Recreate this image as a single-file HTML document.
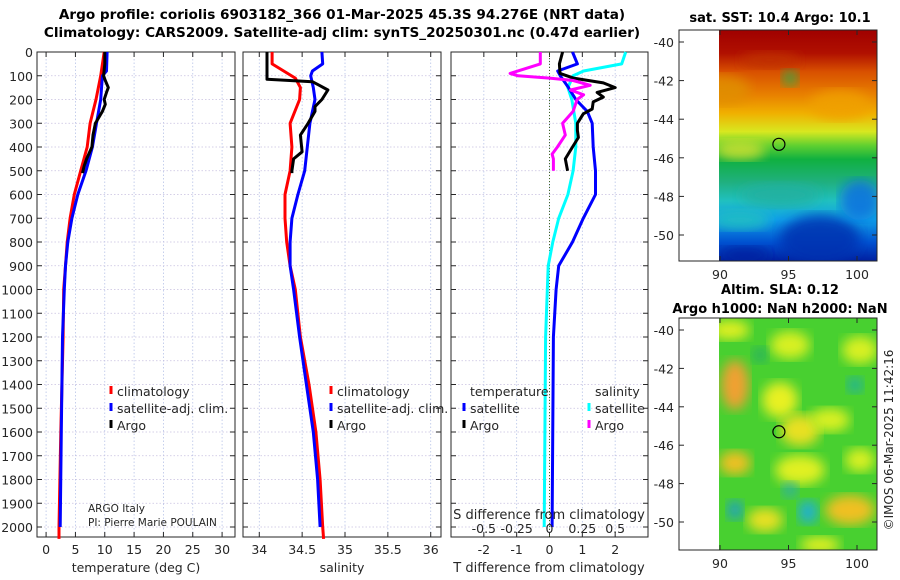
<!DOCTYPE html>
<html><head><meta charset="utf-8">
<style>
html,body{margin:0;padding:0;background:#fff;}
svg{display:block;font-family:"DejaVu Sans","Liberation Sans",sans-serif;}
</style></head>
<body>
<svg id="fig" width="900" height="580" viewBox="0 0 900 580" xmlns="http://www.w3.org/2000/svg">
<defs>
<linearGradient id="sstGrad" x1="0" y1="0" x2="0" y2="1">
<stop offset="0" stop-color="#a00000"/><stop offset="0.1" stop-color="#b01000"/>
<stop offset="0.18" stop-color="#d85000"/><stop offset="0.28" stop-color="#e88000"/>
<stop offset="0.36" stop-color="#f0b000"/><stop offset="0.44" stop-color="#d8e820"/>
<stop offset="0.5" stop-color="#60d030"/><stop offset="0.56" stop-color="#10b040"/>
<stop offset="0.66" stop-color="#20b080"/><stop offset="0.74" stop-color="#20c0c0"/>
<stop offset="0.82" stop-color="#10a0e8"/><stop offset="0.92" stop-color="#0050d0"/>
<stop offset="1" stop-color="#0020a0"/></linearGradient>
<filter id="blur6"><feGaussianBlur stdDeviation="6"/></filter>
<clipPath id="clipTop"><rect x="719" y="30" width="158" height="231"/></clipPath>
<clipPath id="clipBot"><rect x="719" y="318" width="158" height="232"/></clipPath>
</defs>
<g id="root"></g>
</svg>
<script>
// ---- data ----
const depthsTclim = [0,100,200,300,400,500,600,700,800,900,1000,1200,1600,2000,2050];
const tempClim = [9.9,9.3,8.5,7.5,7.0,5.9,4.8,4.1,3.6,3.3,3.0,2.9,2.5,2.2,2.2];
const depthsTsat = [0,80,100,200,300,400,500,600,700,800,900,1000,1200,1600,2000];
const tempSat = [10.4,10.3,9.6,9.3,8.6,7.9,6.8,5.4,4.4,3.7,3.3,3.1,2.8,2.6,2.4];
const depthsArgo = [0,50,100,120,150,170,200,220,250,300,350,400,450,480,510];
const tempArgo = [10.0,10.0,9.8,10.1,10.6,10.3,9.9,10.1,9.6,8.4,8.0,7.8,6.9,6.5,6.2];
const depthsSclim = [0,50,110,150,200,300,400,500,600,700,800,900,1000,1200,1400,1600,1800,2000,2050];
const salClim = [34.15,34.15,34.42,34.48,34.47,34.36,34.38,34.36,34.30,34.30,34.32,34.36,34.42,34.48,34.58,34.66,34.71,34.74,34.75];
const depthsSsat = [0,50,80,100,150,200,300,400,500,600,700,800,900,1000,1200,1400,1600,1800,2000];
const salSat = [34.73,34.74,34.62,34.60,34.63,34.65,34.59,34.56,34.53,34.45,34.38,34.36,34.36,34.40,34.47,34.55,34.63,34.68,34.71];
const salArgo = [34.09,34.09,34.09,34.62,34.70,34.80,34.73,34.65,34.65,34.57,34.48,34.50,34.40,34.38,34.38];
const depthsSalArgo = [0,100,115,125,140,160,200,230,250,300,350,420,450,500,510];
const depthsDiffSat = [0,50,80,100,150,200,250,300,400,500,600,700,800,900,1000,1200,2000];
const tDiffSat = [0.7,0.85,0.25,0.33,0.58,0.8,1.15,1.3,1.33,1.4,1.4,1.03,0.7,0.28,0.2,0.12,0.08];
const depthsSDiffSat = [0,50,80,100,150,200,300,400,500,600,700,800,900,1200,2000];
const sDiffSat = [0.58,0.55,0.26,0.18,0.14,0.17,0.2,0.2,0.18,0.14,0.07,0.025,-0.01,-0.03,-0.04];
const depthsDiffArgo = [0,50,90,110,130,150,170,190,210,240,260,300,330,360,400,450,500];
const tDiffArgo = [0.4,0.3,0.32,0.73,1.64,2.0,1.45,1.64,1.33,1.3,1.03,0.85,0.85,0.88,0.7,0.48,0.55];
const depthsSDiffArgo = [0,50,90,100,110,120,140,160,180,200,250,300,350,400,430,450,500];
const sDiffArgo = [-0.07,-0.07,-0.3,-0.24,0.0,0.18,0.31,0.16,0.26,0.21,0.18,0.1,0.12,0.06,0.02,0.03,0.03];
const depthTicks = [0,100,200,300,400,500,600,700,800,900,1000,1100,1200,1300,1400,1500,1600,1700,1800,1900,2000];
const tempTicks = [0,5,10,15,20,25,30];
const salTicks = [34,34.5,35,35.5,36];
const tDiffTicks = [-2,-1,0,1,2];
const sDiffTicks = [-0.5,-0.25,0,0.25,0.5];
const latTicks = [-40,-42,-44,-46,-48,-50];
const lonTicks = [90,95,100];
const floatLon = 94.3, floatLat = -45.3;

const NS="http://www.w3.org/2000/svg";
const root=document.getElementById('root');
function el(tag,attrs,parent){const e=document.createElementNS(NS,tag);for(const k in attrs)e.setAttribute(k,attrs[k]);(parent||root).appendChild(e);return e;}
function txt(s,x,y,attrs,parent){const a=Object.assign({x:x,y:y,'font-size':12.5,fill:'#262626'},attrs||{});const t=el('text',a,parent);t.textContent=s;return t;}

const Y0=52, YS=(527-52)/2000, YBOT=537;
const yD=d=>Y0+d*YS;
const panels=[
 {name:'temperature',x0:37,x1:235,lo:-1.55,hi:32.2},
 {name:'salinity',x0:243,x1:441,lo:33.81,hi:36.12},
 {name:'difference',x0:451,x1:648,lo:-3,hi:3}
];
panels.forEach(p=>{p.f=v=>p.x0+(v-p.lo)/(p.hi-p.lo)*(p.x1-p.x0);});
const xT=panels[0].f, xS=panels[1].f, xTd=panels[2].f, xSd=v=>panels[2].f(v*4);

const t1=txt('Argo profile: coriolis 6903182_366 01-Mar-2025 45.3S 94.276E (NRT data)',342,19,{'font-size':13.6,'font-weight':'bold','text-anchor':'middle',fill:'#000'});


const t2=txt('Climatology: CARS2009. Satellite-adj clim: synTS_20250301.nc (0.47d earlier)',342,37,{'font-size':13.6,'font-weight':'bold','text-anchor':'middle',fill:'#000'});



depthTicks.forEach(d=>{
 const t=txt(String(d),33,yD(d)+5,{'text-anchor':'end'});
 
 
});

function drawPanel(p,ticks,tickFmt){
 const g=el('g',{});
 
 
 ticks.forEach(v=>{
  const x=p.f(v);
  const gl=el('line',{x1:x,x2:x,y1:Y0,y2:YBOT,stroke:'#b8c4e8','stroke-width':0.8,'stroke-dasharray':'1.5,2'},g);
  
  
  el('line',{x1:x,x2:x,y1:YBOT,y2:YBOT-5,stroke:'#262626'},g);
  el('line',{x1:x,x2:x,y1:Y0,y2:Y0+5,stroke:'#262626'},g);
  if(tickFmt){const t=txt(tickFmt(v),x,554,{'text-anchor':'middle'},g);
   
   }
 });
 depthTicks.forEach(d=>{
  const y=yD(d);
  const gl=el('line',{x1:p.x0,x2:p.x1,y1:y,y2:y,stroke:'#c8c0e0','stroke-width':0.8,'stroke-dasharray':'1.5,2'},g);
  
  
  el('line',{x1:p.x0,x2:p.x0+5,y1:y,y2:y,stroke:'#262626'},g);
  el('line',{x1:p.x1,x2:p.x1-5,y1:y,y2:y,stroke:'#262626'},g);
 });
 const fr=el('rect',{x:p.x0,y:Y0,width:p.x1-p.x0,height:YBOT-Y0,fill:'none',stroke:'#262626','stroke-width':1},g);
 
 
 return g;
}
drawPanel(panels[0],tempTicks,v=>String(v));
drawPanel(panels[1],salTicks,v=>String(v));
drawPanel(panels[2],tDiffTicks,v=>String(v));

const zl=el('line',{x1:xTd(0),x2:xTd(0),y1:Y0,y2:YBOT,stroke:'#446622','stroke-width':1,'stroke-dasharray':'1,2'});



function line(xs,ds,fx,color,name,w){
 const pts=xs.map((v,i)=>fx(v).toFixed(1)+','+yD(ds[i]).toFixed(1)).join(' ');
 const pl=el('polyline',{points:pts,fill:'none',stroke:color,'stroke-width':w||3,'stroke-linejoin':'round'});
 
 
}
line(tempClim,depthsTclim,xT,'#ff0000','temp-climatology-line');
line(tempSat,depthsTsat,xT,'#0000ff','temp-satellite-line');
line(tempArgo,depthsArgo,xT,'#000000','temp-argo-line');
line(salClim,depthsSclim,xS,'#ff0000','sal-climatology-line');
line(salSat,depthsSsat,xS,'#0000ff','sal-satellite-line');
line(salArgo,depthsSalArgo,xS,'#000000','sal-argo-line');
line(sDiffSat,depthsSDiffSat,xSd,'#00ffff','sdiff-satellite-line');
line(tDiffSat,depthsDiffSat,xTd,'#0000ff','tdiff-satellite-line');
line(tDiffArgo,depthsDiffArgo,xTd,'#000000','tdiff-argo-line');
line(sDiffArgo,depthsSDiffArgo,xSd,'#ff00ff','sdiff-argo-line');

function legend(x,y,color,label,name){
 const g=el('g',{});
 
 
 el('line',{x1:x,x2:x,y1:y-10,y2:y-2,stroke:color,'stroke-width':3},g);
 txt(label,x+6,y,{},g);
}
legend(111,396,'#ff0000','climatology','legend-temp-climatology');
legend(111,413,'#0000ff','satellite-adj. clim.','legend-temp-satellite');
legend(111,430,'#000000','Argo','legend-temp-argo');
legend(331,396,'#ff0000','climatology','legend-sal-climatology');
legend(331,413,'#0000ff','satellite-adj. clim.','legend-sal-satellite');
legend(331,430,'#000000','Argo','legend-sal-argo');
const lt=txt('temperature',470,396,{});
legend(464,413,'#0000ff','satellite','legend-tdiff-satellite');
legend(464,430,'#000000','Argo','legend-tdiff-argo');
const ls=txt('salinity',595,396,{});
legend(589,413,'#00ffff','satellite','legend-sdiff-satellite');
legend(589,430,'#ff00ff','Argo','legend-sdiff-argo');

const a1=txt('ARGO Italy',88,512,{'font-size':10.5});
const a2=txt('PI: Pierre Marie POULAIN',88,526,{'font-size':10.5});

const sd=txt('S difference from climatology',549,519,{'text-anchor':'middle','font-size':13});
sDiffTicks.forEach(v=>{const t=txt(String(v),xSd(v),533,{'text-anchor':'middle'});
 
 });

const xl1=txt('temperature (deg C)',136,572,{'text-anchor':'middle'});
const xl2=txt('salinity',342,572,{'text-anchor':'middle'});
const xl3=txt('T difference from climatology',549,572,{'text-anchor':'middle','font-size':13});

// ---- maps ----
const lonX=lon=>720+(lon-90)*13.7;
function mapAxes(top,bot,lat40,lat50,name){
 const latY=lat=>lat40+(lat+40)/(-10)*(lat50-lat40);
 const g=el('g',{});
 
 
 el('rect',{x:679,y:top,width:198,height:bot-top,fill:'none',stroke:'#262626'},g);
 latTicks.forEach(l=>{const y=latY(l);
  el('line',{x1:679,x2:684,y1:y,y2:y,stroke:'#262626'},g);
  el('line',{x1:877,x2:872,y1:y,y2:y,stroke:'#262626'},g);
  const t=txt(String(l),674,y+5,{'text-anchor':'end'},g);
  
  });
 lonTicks.forEach(l=>{const x=lonX(l);
  el('line',{x1:x,x2:x,y1:bot,y2:bot-5,stroke:'#262626'},g);
  el('line',{x1:x,x2:x,y1:top,y2:top+5,stroke:'#262626'},g);
  const t=txt(String(l),x,bot+18,{'text-anchor':'middle'},g);
  
  });
 return latY;
}
const sstG=el('g',{'clip-path':'url(#clipTop)'});


el('rect',{x:719,y:30,width:158,height:231,fill:'url(#sstGrad)'},sstG);
[[770,60,30,8,'#c03000'],[720,90,30,15,'#e09000'],[840,105,30,15,'#f0a000'],[790,78,8,8,'#20b050'],[740,150,25,10,'#d0e030'],[780,195,40,12,'#20b0a0'],[820,240,40,25,'#0030b0'],[745,255,25,8,'#0020a0'],[860,200,20,20,'#1070e0'],[740,220,30,10,'#20c0c0']].forEach(b=>{
 el('ellipse',{cx:b[0],cy:b[1],rx:b[2],ry:b[3],fill:b[4],filter:'url(#blur6)',opacity:0.85},sstG);});
const latTop=mapAxes(30,261,42,235,'sst-map');
const c1=el('circle',{cx:lonX(floatLon),cy:latTop(floatLat),r:6,fill:'none',stroke:'#000','stroke-width':1.2});


const mt1=txt('sat. SST: 10.4 Argo: 10.1',780,22,{'font-size':13,'font-weight':'bold','text-anchor':'middle',fill:'#000'});



const slaG=el('g',{'clip-path':'url(#clipBot)'});


el('rect',{x:719,y:318,width:158,height:232,fill:'#48d030'},slaG);
[[730,330,20,10,'#e0f020'],[735,385,14,25,'#f0a030'],[790,345,20,14,'#d8f020'],[860,350,18,14,'#d8f020'],[780,400,18,18,'#e8f020'],[800,430,20,16,'#e8e020'],[830,420,20,12,'#d8f020'],[735,463,16,12,'#f0c020'],[800,470,25,15,'#e0f020'],[850,510,25,15,'#f0c020'],[765,520,18,12,'#e8e020'],[820,545,20,8,'#e8f020'],[860,460,15,12,'#d8f020'],[735,510,8,10,'#20a0c0'],[808,512,10,12,'#20b0d0'],[855,385,8,8,'#20b0a0'],[790,490,8,8,'#30b0a0'],[760,355,8,8,'#28b060']].forEach(b=>{
 el('ellipse',{cx:b[0],cy:b[1],rx:b[2],ry:b[3],fill:b[4],filter:'url(#blur6)'},slaG);});
const latBot=mapAxes(318,550,330,522,'sla-map');
const c2=el('circle',{cx:lonX(floatLon),cy:latBot(floatLat),r:6,fill:'none',stroke:'#000','stroke-width':1.2});


const mt2=txt('Altim. SLA: 0.12',780,294,{'font-size':13,'font-weight':'bold','text-anchor':'middle',fill:'#000'});


const mt3=txt('Argo h1000: NaN h2000: NaN',780,313,{'font-size':13,'font-weight':'bold','text-anchor':'middle',fill:'#000'});



const cp=txt('©IMOS 06-Mar-2025 11:42:16',0,0,{'font-size':12,'text-anchor':'middle',transform:'translate(893,440) rotate(-90)'});


</script>
</body></html>
